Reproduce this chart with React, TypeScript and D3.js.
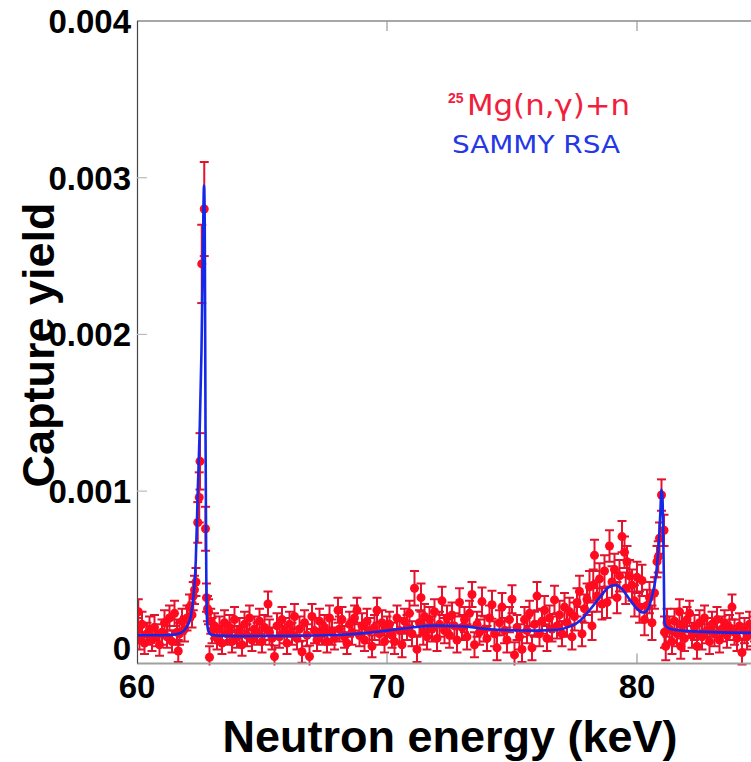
import React from 'react';
import * as d3 from 'd3';

const W = 751;
const H = 762;

const yTicks = [0, 0.001, 0.002, 0.003, 0.004];
const yTickLabels = ['0', '0.001', '0.002', '0.003', '0.004'];
const xTicks = [60, 70, 80];
const xTickLabels = ['60', '70', '80'];

// yield values and errors are given in units of 1e-4
const UNIT = 1e-4;

// [neutron energy (keV), capture yield (×1e-4), error (×1e-4)]
const measured: [number, number, number][] = [
  [60.0, 1.1, 0.8], [60.05, 2.3, 0.8], [60.1, 0.6, 0.7], [60.2, 1.5, 0.8], [60.3, 0.3, 0.7], [60.4, 0.9, 0.7],
  [60.5, 1.2, 0.8], [60.6, 0.5, 0.7], [60.7, 1.3, 0.8], [60.8, 0.8, 0.7], [60.9, 0.2, 0.7], [61.0, 1.0, 0.8],
  [61.1, 1.6, 0.8], [61.2, 0.7, 0.7], [61.3, 1.9, 0.8], [61.4, 0.4, 0.7], [61.5, 2.2, 0.8], [61.6, 1.0, 0.8],
  [61.65, -0.2, 0.7], [61.7, 0.9, 0.7], [61.8, 1.7, 0.8], [61.9, 1.2, 0.8], [62.0, 1.9, 0.8],
  [62.1, 2.6, 0.8], [62.2, 2.1, 0.8], [62.25, 3.3, 0.9], [62.3, 3.7, 0.9], [62.36, 4.2, 0.9],
  [62.43, 8.0, 1.3], [62.49, 9.6, 1.6], [62.52, 11.9, 1.8], [62.59, 24.5, 2.5], [62.69, 28.0, 3.0],
  [62.74, 7.6, 1.4], [62.78, 3.2, 0.9], [62.82, 2.5, 0.8], [62.86, 2.3, 0.8], [62.9, -0.6, 0.7],
  [62.95, 1.7, 0.8], [63.0, 1.1, 0.8],
  [63.1, 1.4, 0.8], [63.2, 0.6, 0.7], [63.3, 1.2, 0.8], [63.4, 0.3, 0.7], [63.5, 1.6, 0.8], [63.6, 0.9, 0.7],
  [63.7, 1.3, 0.8], [63.8, 0.4, 0.7], [63.9, 1.8, 0.8], [64.0, 0.7, 0.7], [64.1, 1.1, 0.8], [64.2, 0.2, 0.7],
  [64.3, 1.5, 0.8], [64.4, 0.8, 0.7], [64.5, 1.9, 0.8], [64.6, 0.5, 0.7], [64.7, 1.2, 0.8], [64.8, 0.9, 0.7],
  [64.9, 1.7, 0.8], [65.0, 0.4, 0.7], [65.1, 1.3, 0.8], [65.24, 2.8, 0.8], [65.3, 1.0, 0.8], [65.4, 0.6, 0.7],
  [65.5, -0.55, 0.7], [65.6, 1.4, 0.8], [65.7, 0.7, 0.7], [65.8, 1.8, 0.8], [65.9, 1.1, 0.8], [66.0, 0.3, 0.7],
  [66.1, 1.5, 0.8], [66.2, 0.9, 0.7], [66.3, 2.0, 0.8], [66.4, 0.6, 0.7], [66.5, 1.2, 0.8], [66.6, -0.25, 0.7],
  [66.7, 1.6, 0.8], [66.8, 0.8, 0.7], [66.9, -0.55, 0.7], [67.0, 2.0, 0.8], [67.1, 1.1, 0.8], [67.2, 0.5, 0.7],
  [67.3, 1.7, 0.8], [67.4, 0.9, 0.7], [67.5, 1.3, 0.8], [67.6, 0.4, 0.7], [67.7, 1.9, 0.8], [67.8, 1.0, 0.8],
  [67.9, 0.6, 0.7], [68.04, 2.4, 0.8], [68.1, 1.2, 0.8], [68.2, 1.8, 0.8], [68.3, 0.7, 0.7], [68.4, 0.3, 0.7],
  [68.5, 1.5, 0.8], [68.6, 1.0, 0.8], [68.7, 1.9, 0.8], [68.8, 2.4, 0.8], [68.9, 0.8, 0.7], [69.0, 1.4, 0.8],
  [69.1, 0.5, 0.7], [69.2, 1.7, 0.8], [69.3, 1.1, 0.8], [69.4, 0.1, 0.7], [69.5, 1.3, 0.8], [69.6, 2.4, 0.8],
  [69.7, 0.9, 0.7], [69.8, 1.6, 0.8], [69.9, 0.4, 0.7], [70.0, 1.2, 0.8],
  [70.1, 1.5, 0.8], [70.2, 0.8, 0.8], [70.3, 0.4, 0.8], [70.4, 1.9, 0.8], [70.5, 1.1, 0.8], [70.6, 0.2, 0.8],
  [70.7, 1.7, 0.8], [70.8, 1.3, 0.8], [70.9, 2.2, 0.8], [71.0, 0.9, 0.8], [71.1, 3.8, 1.1], [71.2, -0.1, 0.8],
  [71.3, 1.6, 0.8], [71.36, 3.2, 0.9], [71.45, 1.0, 0.8], [71.5, 2.0, 0.8], [71.6, 0.7, 0.8], [71.7, 1.8, 0.8],
  [71.8, 1.2, 0.8], [71.9, 2.3, 0.8], [72.0, 0.6, 0.8], [72.1, 1.5, 0.8], [72.2, 3.0, 0.9], [72.3, 1.1, 0.8],
  [72.4, 1.9, 0.8], [72.5, 0.8, 0.8], [72.6, 2.1, 0.8], [72.7, 1.4, 0.8], [72.8, 0.5, 0.8], [72.9, 2.9, 0.9],
  [73.0, 1.3, 0.8], [73.1, 1.8, 0.8], [73.2, 0.7, 0.8], [73.3, 2.2, 0.8], [73.4, 3.4, 0.8], [73.5, 0.2, 0.8],
  [73.6, 1.5, 0.8], [73.7, 1.0, 0.8], [73.8, 2.95, 0.9], [73.9, 1.2, 0.8], [74.0, 0.6, 0.8], [74.1, 1.9, 0.8],
  [74.2, 2.75, 0.9], [74.3, 0.9, 0.8], [74.4, 0.0, 0.8], [74.5, 1.6, 0.8], [74.6, 2.6, 0.9], [74.7, 1.1, 0.8],
  [74.8, 0.5, 0.8], [74.9, 1.8, 0.8], [75.0, 3.1, 0.9],
  [75.1, -0.45, 0.8], [75.2, 1.3, 0.8], [75.3, 0.7, 0.8], [75.4, -0.1, 0.8], [75.5, 1.8, 0.8], [75.6, 1.1, 0.8],
  [75.7, 2.2, 0.8], [75.8, 0.0, 0.8], [75.9, 1.5, 0.8], [76.0, 3.3, 0.9], [76.1, 0.9, 0.8], [76.2, 1.7, 0.8],
  [76.3, 2.4, 0.9], [76.4, 0.6, 0.8], [76.5, 1.9, 0.8], [76.6, 1.2, 0.8], [76.7, 3.06, 0.9], [76.8, 1.4, 0.8],
  [76.9, 2.1, 0.9], [77.0, 0.9, 0.8], [77.1, 2.6, 0.9], [77.2, 1.6, 0.9], [77.3, 2.3, 0.9], [77.4, 0.7, 0.8],
  [77.5, 2.0, 0.9], [77.6, 2.9, 0.9], [77.7, 3.6, 1.0], [77.8, 0.9, 0.8], [77.9, 2.5, 0.9], [78.0, 3.1, 1.0],
  [78.1, 3.9, 1.0], [78.2, 1.4, 0.9], [78.25, 4.0, 1.0], [78.3, 5.9, 1.0], [78.4, 3.3, 1.0], [78.5, 4.4, 1.0],
  [78.6, 2.8, 1.0], [78.7, 4.9, 1.0], [78.8, 2.9, 1.0], [78.9, 6.5, 1.0], [79.0, 4.2, 1.0], [79.1, 5.0, 1.0],
  [79.2, 3.2, 1.0], [79.3, 4.6, 1.0], [79.4, 7.1, 1.0], [79.5, 6.1, 1.0], [79.55, 3.8, 1.0], [79.6, 5.5, 1.0],
  [79.7, 4.6, 1.0], [79.8, 4.0, 1.0], [79.9, 3.0, 1.0], [80.0, 4.5, 1.0],
  [80.1, 2.6, 1.0], [80.2, 4.3, 1.0], [80.3, 1.8, 1.0], [80.4, 2.7, 1.0], [80.5, 3.2, 1.0], [80.6, 1.6, 1.1],
  [80.7, 3.5, 1.0], [80.8, 5.5, 1.0], [80.85, 5.8, 1.0], [80.9, 7.0, 1.0], [80.98, 9.75, 1.0], [81.08, 7.5, 1.0],
  [81.1, 1.0, 1.0], [81.15, 0.1, 0.9], [81.2, 1.6, 0.9],
  [81.3, 1.2, 0.8], [81.4, 0.4, 0.8], [81.5, 1.7, 0.8], [81.6, 0.9, 0.8], [81.7, 2.3, 0.8], [81.75, 0.1, 0.8],
  [81.8, 1.4, 0.8], [81.9, 0.6, 0.8], [82.0, 1.8, 0.8], [82.1, 2.2, 0.8], [82.2, 0.8, 0.8], [82.3, 1.3, 0.8],
  [82.4, 0.1, 0.8], [82.5, 1.6, 0.8], [82.6, 0.7, 0.8], [82.7, 1.9, 0.8], [82.8, 1.1, 0.8], [82.9, 0.4, 0.8],
  [83.0, 1.5, 0.8], [83.1, 0.9, 0.8], [83.2, 1.8, 0.8], [83.3, 0.5, 0.8], [83.4, 1.2, 0.8], [83.5, 1.6, 0.8],
  [83.6, 0.8, 0.8], [83.7, 1.3, 0.8], [83.8, 2.6, 0.8], [83.9, 1.0, 0.8], [84.0, 0.6, 0.8], [84.1, 1.4, 0.8],
  [84.2, -0.3, 0.8], [84.3, 1.1, 0.8], [84.4, 0.7, 0.8], [84.5, 1.5, 0.8], [84.6, 0.9, 0.8], [84.7, 1.2, 0.8],
];

// SAMMY R-matrix fit: [energy (keV), yield (×1e-4)]
const fit: [number, number][] = [
  [60.0, 0.8], [61.0, 0.8], [61.5, 0.84], [61.8, 1.0], [62.0, 1.35], [62.15, 2.0], [62.27, 3.5],
  [62.35, 5.5], [62.43, 10], [62.5, 13.5], [62.58, 19], [62.64, 26], [62.68, 29.5], [62.71, 27],
  [62.74, 14], [62.77, 5], [62.8, 1.8], [62.85, 1.1], [62.95, 0.85], [63.2, 0.78], [64.0, 0.75],
  [66.0, 0.76], [68.0, 0.82], [69.0, 0.92], [70.0, 1.1], [71.0, 1.3], [72.0, 1.42], [73.0, 1.38],
  [74.0, 1.2], [75.0, 1.12], [76.0, 1.1], [76.8, 1.15], [77.3, 1.35], [77.7, 1.7], [78.1, 2.4],
  [78.5, 3.2], [78.9, 3.9], [79.15, 4.0], [79.4, 3.75], [79.7, 3.1], [80.0, 2.5], [80.25, 2.25],
  [80.45, 2.5], [80.6, 3.3], [80.75, 4.5], [80.85, 6.2], [80.93, 8.5], [80.98, 10.1], [81.02, 9.5],
  [81.07, 5], [81.1, 1.6], [81.2, 1.3], [81.5, 1.15], [82.0, 1.08], [83.0, 1.0], [85.0, 0.95],
];

const legendRed = 'Mg(n,\u03B3)+n';
const legendRedSup = '25';
const legendBlue = 'SAMMY RSA';
const yTitle = 'Capture yield';
const xTitle = 'Neutron energy (keV)';

export default function App() {
  const left = 137;
  const top = 21;
  const bottom = 663.5;
  const x = d3.scaleLinear().domain([60, 85]).range([left, 762]);
  const y = d3.scaleLinear().domain([-0.0001, 0.004]).range([bottom, top]);

  const line = d3
    .line<[number, number]>()
    .x((d) => x(d[0]))
    .y((d) => y(d[1] * UNIT))
    .curve(d3.curveMonotoneX);

  const red = '#ff0a1e';
  const barRed = '#e3132d';
  const blue = '#1428ea';
  const font = 'Liberation Sans, Arial, Helvetica, sans-serif';
  const cap = 4.5;

  return (
    <svg
      width={W}
      height={H}
      style={{ position: 'absolute', left: 0, top: 0, background: '#fff' }}
      fontFamily={font}
    >
      <defs>
        <clipPath id="plotclip">
          <rect x={left} y={top} width={762 - left} height={bottom - top + 2} />
        </clipPath>
      </defs>
      <rect x={0} y={0} width={W} height={H} fill="#fff" />

      <g clipPath="url(#plotclip)">
        {measured.map(([e, v, err], i) => {
          const cx = x(e);
          const y1 = y((v + err) * UNIT);
          const y2 = y((v - err) * UNIT);
          return (
            <g key={'b' + i} stroke={barRed} strokeWidth={2}>
              <line x1={cx} x2={cx} y1={y1} y2={y2} />
              <line x1={cx - cap} x2={cx + cap} y1={y1} y2={y1} />
              <line x1={cx - cap} x2={cx + cap} y1={y2} y2={y2} />
            </g>
          );
        })}
        {measured.map(([e, v], i) => (
          <circle key={'p' + i} cx={x(e)} cy={y(v * UNIT)} r={4.5} fill={red} />
        ))}
        <path d={line(fit) || ''} fill="none" stroke={blue} strokeWidth={2.6} />
      </g>

      {/* frame */}
      <line x1={left} x2={W} y1={top} y2={top} stroke="#8a8a8a" strokeWidth={1.4} />
      <line x1={left} x2={W} y1={bottom} y2={bottom} stroke="#a0a0a0" strokeWidth={2} />
      <line x1={left + 0.5} x2={left + 0.5} y1={top} y2={bottom} stroke="#444" strokeWidth={1.2} />

      {/* y ticks */}
      {yTicks.map((t, i) => (
        <g key={'yt' + i}>
          {i > 0 && i < yTicks.length - 1 ? (
            <line x1={left} x2={left + 10} y1={y(t)} y2={y(t)} stroke="#bbb" strokeWidth={1.2} />
          ) : null}
          <text
            x={131}
            y={y(t)}
            dy="0.36em"
            textAnchor="end"
            fontSize={33}
            fontWeight="bold"
            fill="#000"
          >
            {yTickLabels[i]}
          </text>
        </g>
      ))}

      {/* x ticks */}
      {xTicks.map((t, i) => (
        <g key={'xt' + i}>
          {i > 0 ? (
            <>
              <line x1={x(t)} x2={x(t)} y1={bottom} y2={bottom - 10} stroke="#999" strokeWidth={1.2} />
              <line x1={x(t)} x2={x(t)} y1={top} y2={top + 10} stroke="#999" strokeWidth={1.2} />
            </>
          ) : null}
          <text x={x(t)} y={698} textAnchor="middle" fontSize={33} fontWeight="bold" fill="#000">
            {xTickLabels[i]}
          </text>
        </g>
      ))}

      {/* axis titles */}
      <text
        transform={`translate(54, 345) rotate(-90)`}
        textAnchor="middle"
        fontSize={45}
        fontWeight="bold"
        fill="#000"
      >
        {yTitle}
      </text>
      <text x={450} y={752} textAnchor="middle" fontSize={45} fontWeight="bold" fill="#000">
        {xTitle}
      </text>

      {/* legend */}
      <text x={448} y={103} fontSize={14} fill="#f0203c" fontWeight="bold">
        {legendRedSup}
      </text>
      <text
        x={467}
        y={115}
        fontSize={28}
        fill="#f0203c"
        textLength={163}
        lengthAdjust="spacingAndGlyphs"
        fontFamily="DejaVu Sans, sans-serif"
      >
        {legendRed}
      </text>
      <text
        x={452}
        y={153}
        fontSize={25}
        fill="#2438e6"
        textLength={168}
        lengthAdjust="spacingAndGlyphs"
        fontFamily="DejaVu Sans, sans-serif"
      >
        {legendBlue}
      </text>
    </svg>
  );
}
